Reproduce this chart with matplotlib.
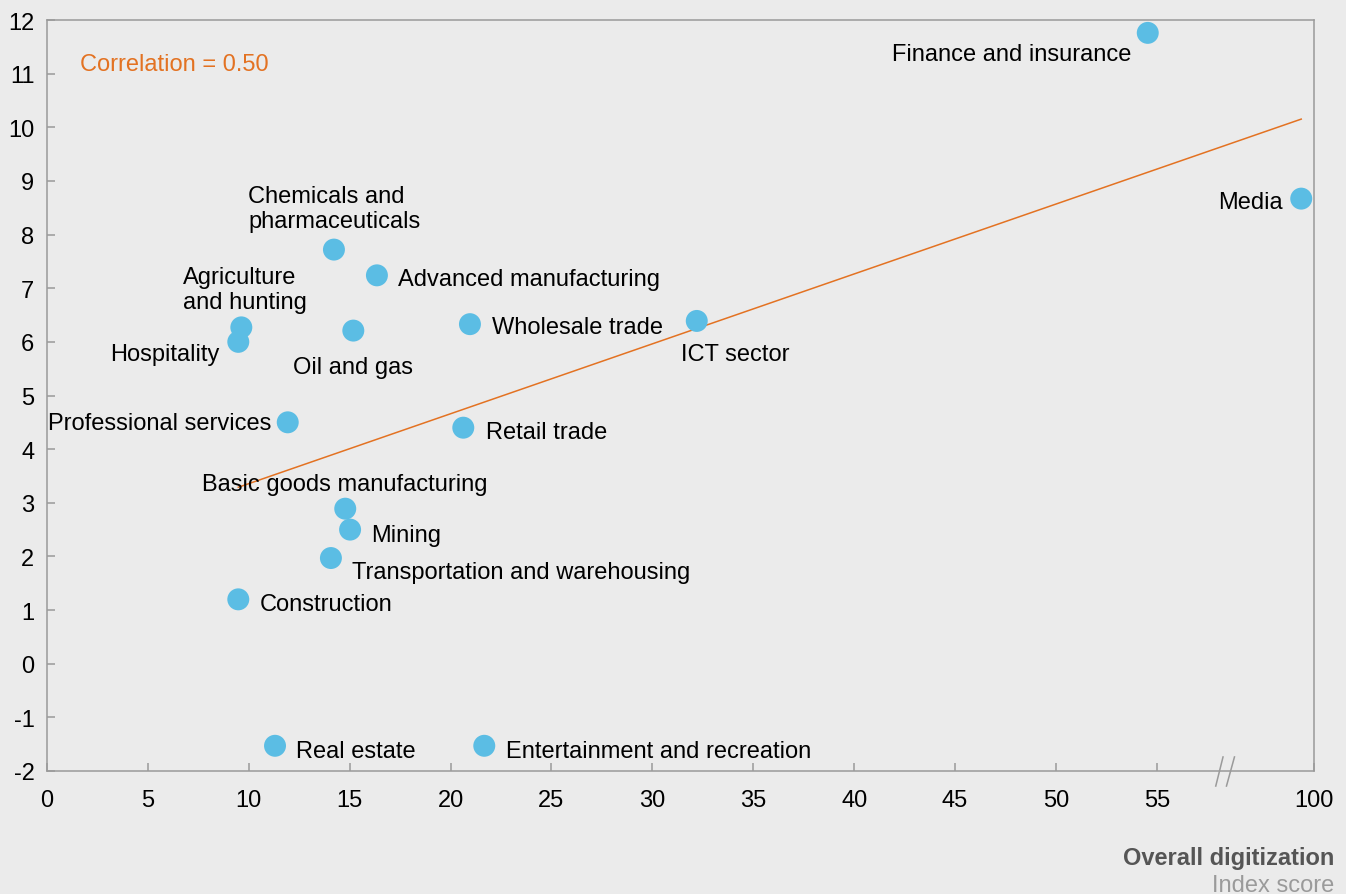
import numpy as np
import matplotlib
matplotlib.use("Agg")
import matplotlib.pyplot as plt
from matplotlib.path import Path

plt.rcParams["font.family"] = ["Liberation Sans", "DejaVu Sans"]

# data
sectors = ["Finance and insurance", "Media", "Chemicals and\npharmaceuticals",
           "Advanced manufacturing", "Agriculture\nand hunting", "Hospitality",
           "Oil and gas", "Professional services", "Basic goods manufacturing",
           "Mining", "Transportation and warehousing", "Construction",
           "Real estate", "Entertainment and recreation", "Wholesale trade",
           "ICT sector", "Retail trade"]
digitization = [54.55, 94.0, 14.22, 16.35, 9.63, 9.48, 15.18, 11.93, 14.78,
                15.02, 14.07, 9.48, 11.30, 21.67, 20.96, 32.2, 20.63]
growth = [11.76, 8.67, 7.72, 7.24, 6.27, 6.00, 6.21, 4.50, 2.89,
          2.50, 1.97, 1.20, -1.53, -1.53, 6.33, 6.39, 4.40]
x_ticks = [0, 5, 10, 15, 20, 25, 30, 35, 40, 45, 50, 55, 100]
y_ticks = list(range(-2, 13))
corr_text = "Correlation = 0.50"

# label placement (pixels from the point) and alignment
label_pos = [(-16, -21, "right"), (-18, -3, "right"), (-86, 41, "left"),
             (21, -4, "left"), (-58, 38, "left"), (-19, -12, "right"),
             (0, -36, "center"), (-16, -1, "right"), (0, 25, "center"),
             (21, -5, "left"), (21, -14, "left"), (21, -5, "left"),
             (21, -5, "left"), (22, -5, "left"), (22, -3, "left"),
             (-16, -33, "left"), (23, -4, "left")]

BG = "#ebebeb"
DOT = "#5bbde4"
ORANGE = "#e37222"
AXIS = "#9a9a9a"
FS = 17

# broken x axis: 0-58.4 linear, then compressed up to 100
BRK = 58.4
K = 0.1055


def fwd(x):
    x = np.asarray(x, float)
    return np.where(x <= BRK, x, BRK + (x - BRK) * K)


def inv(x):
    x = np.asarray(x, float)
    return np.where(x <= BRK, x, BRK + (x - BRK) / K)


fig = plt.figure(figsize=(13.46, 8.95), dpi=100, facecolor=BG)
ax = fig.add_axes([47 / 1346, 123 / 895, 1267 / 1346, 751 / 895])
ax.set_facecolor(BG)
ax.set_xscale("function", functions=(fwd, inv))
ax.set_xlim(0, 100)
ax.set_ylim(-2, 12)

x = np.array(digitization)
y = np.array(growth)

# trend line fitted in plotted (display) space
slope, icpt = np.polyfit(fwd(x), y, 1)
xs = np.array([x.min(), x.max()])
ax.plot(xs, slope * fwd(xs) + icpt, color=ORANGE, lw=1.1, zorder=2)

ax.scatter(x, y, s=250, color=DOT, edgecolors="none", zorder=3, clip_on=False)

for name, xi, yi, (dx, dy, ha) in zip(sectors, x, y, label_pos):
    ax.annotate(name, (xi, yi), xytext=(dx, dy), textcoords="offset pixels",
                ha=ha, va="center", fontsize=FS, color="black",
                linespacing=1.2, zorder=4)

ax.text(33 / 1267, (772 - 65) / 751, corr_text,
        transform=ax.transAxes, color=ORANGE, fontsize=FS, va="center", ha="left")

ax.set_xticks(x_ticks)
ax.set_xticklabels([str(t) for t in x_ticks])
ax.set_yticks(y_ticks)
ax.set_yticklabels([str(t) for t in y_ticks])
ax.tick_params(direction="in", length=6, width=1.1, color=AXIS,
               labelsize=FS, labelcolor="black")
ax.tick_params(axis="x", pad=13)
ax.tick_params(axis="y", pad=9)
for sp in ax.spines.values():
    sp.set_color(AXIS)
    sp.set_linewidth(1.1)

# axis break marker "//"
brk = Path([(-0.65, -1), (-0.15, 1), (0.05, -1), (0.6, 1)],
           [Path.MOVETO, Path.LINETO, Path.MOVETO, Path.LINETO])
ax.plot([BRK], [-2], marker=brk, markersize=22, markerfacecolor="none",
        markeredgecolor=AXIS, markeredgewidth=1.1, clip_on=False, zorder=5)

fig.text(1334 / 1346, (895 - 859) / 895, "Overall digitization", ha="right",
         va="center", fontsize=FS, fontweight="bold", color="#555555")
fig.text(1334 / 1346, 3 / 895, "Index score", ha="right",
         va="baseline", fontsize=FS, color="#9a9a9a")

fig.savefig("out.png", dpi=100, facecolor=BG)
